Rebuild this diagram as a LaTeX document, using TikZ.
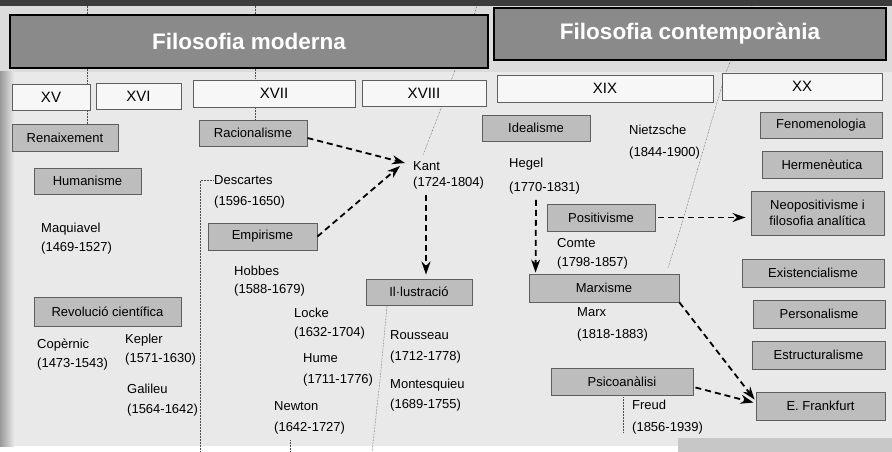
\documentclass[tikz,border=0pt]{standalone}
\usepackage{fontspec}
\setmainfont{Liberation Sans}
\usepackage{tikz}
\usetikzlibrary{arrows.meta}
\usepackage{xcolor}
\definecolor{pagegray}{HTML}{DCDCDC}
\definecolor{panelgray}{HTML}{E9E9E9}
\definecolor{topband}{HTML}{3C3C3C}
\definecolor{headfill}{HTML}{8A8A8A}
\definecolor{boxfill}{HTML}{BDBDBD}
\definecolor{boxline}{HTML}{5E5E5E}

\begin{document}
\begin{tikzpicture} [x=1pt, y=-1pt,
		header/.style={draw=black, line width=1.6pt, fill=headfill, text=white, inner sep=0pt, font=\fontsize{22.5}{26}\selectfont\bfseries},
		century/.style={draw=boxline, line width=0.8pt, fill=white!97!black, inner sep=0pt, font=\fontsize{15}{18}\selectfont},
		concept/.style={draw=boxline, line width=0.9pt, fill=boxfill, inner sep=0pt, align=center, font=\fontsize{13}{15.5}\selectfont},
		person/.style={anchor=base west, inner sep=0pt, align=left, font=\fontsize{13}{20}\selectfont},
		flow/.style={line width=1.8pt, dash pattern=on 6pt off 4pt, -{Stealth[length=13pt, width=9pt]}},
		crease/.style={densely dotted, line width=0.5pt, black!70}]
				\useasboundingbox (0, 0) rectangle (892, 452);
				% page
				\fill [pagegray] (0, 0) rectangle (892, 452);
				\fill [panelgray] (0, 72) rectangle (892, 446);
				\fill [topband] (0, 0) rectangle (892, 6);
				\fill [white] (0, 446) rectangle (678, 452);
				\fill [black!22] (678, 438) rectangle (892, 452);
				\shade [left color=black!40, right color=panelgray] (0, 72) rectangle (14, 446);

				% print-through lines
				\draw [crease] (87, 6)--(87, 124);
				\draw [crease] (255, 6)--(255, 120);
				\draw [crease] (477, 6)--(447, 93)--(423, 155);
				\draw [crease] (387, 306)--(380, 380)--(372, 452);
				\draw [crease] (752, 6)--(725, 75)--(680, 230)--(668, 268);
				\draw [crease] (213, 180)--(200, 180)--(200, 452);
				\draw [crease] (290, 440)--(290, 452);
				\draw [crease] (623, 397)--(623, 432);

				% headers
				\node [header, minimum width=478pt, minimum height=53pt] (moderna) at (249, 41.5) {Filosofia moderna};
				\node [header, minimum width=392pt, minimum height=52pt] (contemp) at (690, 34) {Filosofia contemporània};

				% centuries
				\node [century, minimum width=78pt, minimum height=26pt] (xv) at (51, 97) {XV};
				\node [century, minimum width=85pt, minimum height=26pt] (xvi) at (138.5, 96) {XVI};
				\node [century, minimum width=162pt, minimum height=27pt] (xvii) at (274, 93.5) {XVII};
				\node [century, minimum width=124pt, minimum height=26pt] (xviii) at (424, 93) {XVIII};
				\node [century, minimum width=216pt, minimum height=27pt] (xix) at (605, 88.5) {XIX};
				\node [century, minimum width=160pt, minimum height=27pt] (xx) at (802, 86.5) {XX};

				% currents
				\node [concept, minimum width=106pt, minimum height=27pt] (renaix) at (65, 137.5) {Renaixement};
				\node [concept, minimum width=107pt, minimum height=26pt] (human) at (87.5, 181) {Humanisme};
				\node [concept, minimum width=147pt, minimum height=29pt] (revol) at (107.5, 311.5) {Revolució científica};
				\node [concept, minimum width=108pt, minimum height=26pt] (racio) at (253, 133) {Racionalisme};
				\node [concept, minimum width=109pt, minimum height=27pt] (empir) at (262.5, 236.5) {Empirisme};
				\node [concept, minimum width=106pt, minimum height=26pt] (illus) at (419, 292) {Il·lustració};
				\node [concept, minimum width=108pt, minimum height=26pt] (ideal) at (536, 128) {Idealisme};
				\node [concept, minimum width=108pt, minimum height=27pt] (posit) at (601, 217.5) {Positivisme};
				\node [concept, minimum width=150pt, minimum height=28pt] (marxis) at (604, 288) {Marxisme};
				\node [concept, minimum width=142pt, minimum height=27pt] (psico) at (622, 381.5) {Psicoanàlisi};
				\node [concept, minimum width=122pt, minimum height=26pt] (fenom) at (821, 125) {Fenomenologia};
				\node [concept, minimum width=120pt, minimum height=27pt] (herme) at (822, 164.5) {Hermenèutica};
				\node [concept, minimum width=133pt, minimum height=44pt] (neopos) at (817.5, 213) {Neopositivisme i\\filosofia analítica};
				\node [concept, minimum width=142pt, minimum height=28pt] (exist) at (813, 273) {Existencialisme};
				\node [concept, minimum width=132pt, minimum height=28pt] (perso) at (819, 314) {Personalisme};
				\node [concept, minimum width=133pt, minimum height=28pt] (estru) at (818.5, 355) {Estructuralisme};
				\node [concept, minimum width=129pt, minimum height=28pt] (frank) at (820.5, 406) {E. Frankfurt};

				% philosophers (placed at the baseline of the dates)
				\node [person] (maquia) at (41, 251) {Maquiavel\\[-1pt](1469-1527)};
				\node [person] (coper) at (37, 367) {Copèrnic\\[-1pt](1473-1543)};
				\node [person] (kepler) at (125, 362) {Kepler\\[-1pt](1571-1630)};
				\node [person] (galil) at (127, 413) {Galileu\\(1564-1642)};
				\node [person] (desc) at (214, 205) {Descartes\\[1pt](1596-1650)};
				\node [person] (hobbes) at (234, 293) {Hobbes\\[-2pt](1588-1679)};
				\node [person] (locke) at (294, 336) {Locke\\[-1pt](1632-1704)};
				\node [person] (hume) at (303, 383) {Hume\\[1pt](1711-1776)};
				\node [person] (newton) at (274, 431) {Newton\\[1pt](1642-1727)};
				\node [person] (kant) at (413, 186) {Kant\\[-4pt](1724-1804)};
				\node [person] (rouss) at (390, 360) {Rousseau\\[1pt](1712-1778)};
				\node [person] (montes) at (390, 408) {Montesquieu\\(1689-1755)};
				\node [person] (hegel) at (509, 191) {Hegel\\[4pt](1770-1831)};
				\node [person] (nietz) at (629, 156) {Nietzsche\\[1pt](1844-1900)};
				\node [person] (comte) at (557, 266) {Comte\\[-1pt](1798-1857)};
				\node [person] (marx) at (577, 338) {Marx\\[2pt](1818-1883)};
				\node [person] (freud) at (632, 431) {Freud\\[2pt](1856-1939)};

				% influences
				\draw [flow] ([yshift=-5pt]racio.east)--([xshift=-8pt, yshift=23pt]kant.base west);
				\draw [flow] (empir.east)--([xshift=-13pt, yshift=20pt]kant.base west);
				\draw [flow] ([xshift=13pt, yshift=-6pt]kant.south west)--([xshift=7pt, yshift=4pt]illus.north);
				\draw [flow] ([xshift=27pt, yshift=-6pt]hegel.south west)--([xshift=7pt, yshift=1pt]marxis.north west);
				\draw [flow] ([xshift=3pt]posit.east)--([xshift=-5pt]neopos.west |- posit.east);
				\draw [flow] (marxis.south east)--([xshift=-1pt, yshift=-8pt]frank.north west);
				\draw [flow] ([xshift=2pt, yshift=-6pt]psico.east)--([xshift=-2pt, yshift=-11pt]frank.north west);

			\end{tikzpicture}
\end{document}
